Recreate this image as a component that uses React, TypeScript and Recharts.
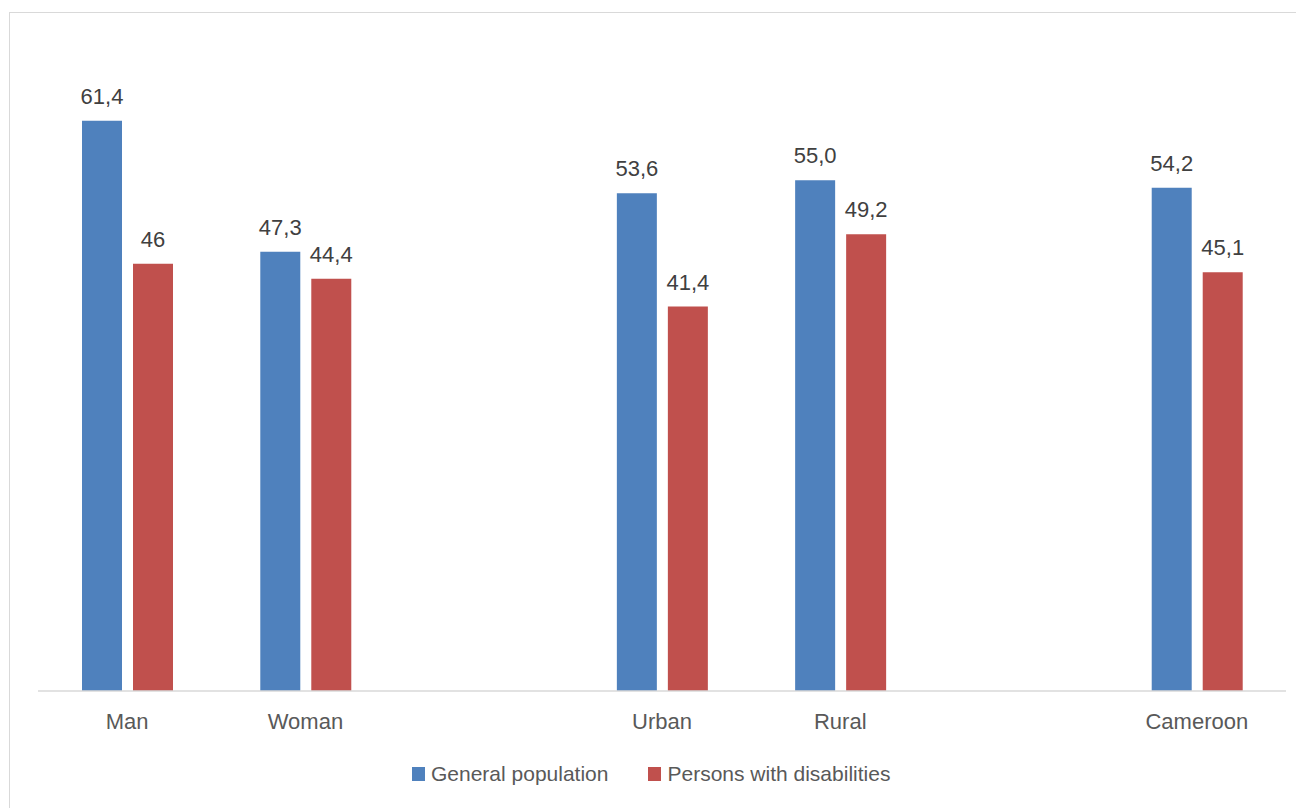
import { Bar, BarChart, LabelList, XAxis, YAxis } from 'recharts';

const categories = ['Man', 'Woman', '', 'Urban', 'Rural', '', 'Cameroon'];
const generalValues = [61.4, 47.3, null, 53.6, 55.0, null, 54.2];
const disabledValues = [46, 44.4, null, 41.4, 49.2, null, 45.1];
const generalLabels = ['61,4', '47,3', null, '53,6', '55,0', null, '54,2'];
const disabledLabels = ['46', '44,4', null, '41,4', '49,2', null, '45,1'];

const seriesNames = ['General population', 'Persons with disabilities'];
const BLUE = '#4f81bd';
const RED = '#c0504d';
const FONT = '"Liberation Sans", Arial, sans-serif';

const data = categories.map((name, i) => ({
  name,
  general: generalValues[i],
  disabled: disabledValues[i],
  generalLabel: generalLabels[i] ?? undefined,
  disabledLabel: disabledLabels[i] ?? undefined,
}));

export default function App() {
  return (
    <div style={{ position: 'relative', width: 1296, height: 800, overflow: 'hidden', fontFamily: FONT }}>
      <div
        style={{
          position: 'absolute',
          left: 1,
          top: 4,
          width: 1320,
          height: 820,
          border: '1px solid #d9d9d9',
        }}
      />
      <BarChart
        width={1296}
        height={800}
        data={data}
        margin={{ top: 33, right: 18, bottom: 87, left: 30 }}
        barSize={40}
        barGap={11}
      >
        <YAxis hide domain={[0, 70]} />
        <XAxis
          dataKey="name"
          height={30}
          tickLine={false}
          axisLine={{ stroke: '#d9d9d9', strokeWidth: 1.5 }}
          tick={{ fill: '#595959', fontSize: 22, fontFamily: FONT }}
          tickMargin={16}
          interval={0}
        />
        <Bar dataKey="general" name={seriesNames[0]} fill={BLUE} isAnimationActive={false}>
          <LabelList dataKey="generalLabel" position="top" offset={17} fill="#404040" fontSize={22} fontFamily={FONT} />
        </Bar>
        <Bar dataKey="disabled" name={seriesNames[1]} fill={RED} isAnimationActive={false}>
          <LabelList dataKey="disabledLabel" position="top" offset={17} fill="#404040" fontSize={22} fontFamily={FONT} />
        </Bar>
      </BarChart>
      <div
        style={{
          position: 'absolute',
          left: 404,
          top: 754,
          display: 'flex',
          alignItems: 'center',
          fontSize: 21,
          color: '#595959',
        }}
      >
        <span style={{ width: 13, height: 14, background: BLUE, marginRight: 6 }} />
        <span style={{ marginRight: 40 }}>{seriesNames[0]}</span>
        <span style={{ width: 13, height: 14, background: RED, marginRight: 6 }} />
        <span>{seriesNames[1]}</span>
      </div>
    </div>
  );
}
